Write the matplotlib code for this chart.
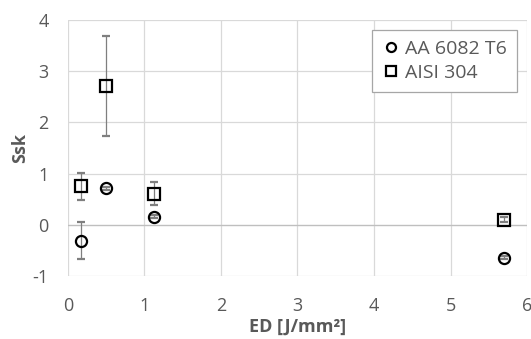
import matplotlib
matplotlib.use("Agg")
import matplotlib.pyplot as plt
from matplotlib.lines import Line2D

plt.rcParams['font.family'] = ['Open Sans', 'DejaVu Sans']
plt.rcParams['axes.unicode_minus'] = False

aa_x = [0.17, 0.50, 1.13, 5.70]
aa_y = [-0.31, 0.71, 0.16, -0.64]
aa_err = [0.36, 0.03, 0.03, 0.03]

ss_x = [0.17, 0.50, 1.13, 5.70]
ss_y = [0.75, 2.71, 0.61, 0.10]
ss_err = [0.26, 0.98, 0.23, 0.05]

xticks = [0, 1, 2, 3, 4, 5, 6]
yticks = [-1, 0, 1, 2, 3, 4]

fig = plt.figure(figsize=(5.31, 3.39), dpi=100)
ax = fig.add_axes([0.128, 0.186, 0.8645, 0.755])

ebkw = dict(ecolor='#7f7f7f', elinewidth=0.9, capsize=3, capthick=0.9, linestyle='none')
ax.errorbar(aa_x, aa_y, yerr=aa_err, marker='o', markersize=8, mfc='none', mec='black',
            mew=1.6, label='AA 6082 T6', zorder=3, **ebkw)
ax.errorbar(ss_x, ss_y, yerr=ss_err, marker='s', markersize=8, mfc='none', mec='black',
            mew=1.6, label='AISI 304', zorder=3, **ebkw)

ax.set_xlim(0, 6)
ax.set_ylim(-1, 4)
ax.set_xticks(xticks)
ax.set_yticks(yticks)
ax.grid(True, color='#d9d9d9', linewidth=0.9, zorder=0)
ax.axhline(0, color='#bfbfbf', linewidth=0.9, zorder=1)
ax.set_axisbelow(True)
for s in ax.spines.values():
    s.set_visible(False)
ax.tick_params(axis='x', length=0, labelsize=13, labelcolor='#595959', pad=15)
ax.tick_params(axis='y', length=0, labelsize=13, labelcolor='#595959', pad=14)
ax.set_xlabel('ED [J/mm²]', fontsize=13, fontweight='bold', color='#595959', labelpad=2)
ax.set_ylabel('Ssk', fontsize=13, fontweight='bold', color='#595959', labelpad=2)

labels = ['AA 6082 T6', 'AISI 304']
h = [Line2D([], [], marker='o', ls='none', mfc='none', mec='black', mew=1.6, markersize=6.5),
     Line2D([], [], marker='s', ls='none', mfc='none', mec='black', mew=1.6, markersize=6.5)]
leg = ax.legend(h, labels, loc='upper right', bbox_to_anchor=(0.979, 0.962), fontsize=14,
                frameon=True, fancybox=False, edgecolor='#a6a6a6', framealpha=1,
                handletextpad=0.22, handlelength=1.0, borderpad=0.52, labelspacing=0.3,
                borderaxespad=0)
leg.get_frame().set_linewidth(0.9)
for t in leg.get_texts():
    t.set_color('#595959')

fig.savefig('out.png', dpi=100)
